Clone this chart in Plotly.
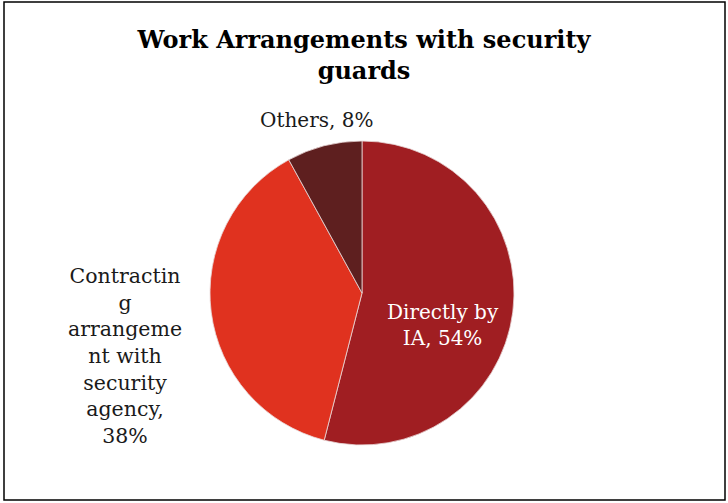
import plotly.graph_objects as go

# Données
categories = ['Directly by IA', 'Contracting arrangement with security agency', 'Others']
valeurs = [54, 38, 8]
couleurs = ['#A01E22', '#E0321F', '#5E1F1F']
# Libellés tels qu'affichés (retour à la ligne d'origine)
libelles_affiches = ['Directly by<br>IA', 'Contractin<br>g<br>arrangeme<br>nt with<br>security<br>agency', 'Others']
separateurs = [', ', ',<br>', ', ']

W, H = 728, 503
police = 'DejaVu Serif'

fig = go.Figure()

fig.add_trace(go.Pie(
    labels=categories,
    values=valeurs,
    sort=False,
    direction='clockwise',
    rotation=0,
    marker=dict(colors=couleurs, line=dict(color='#E8D8D8', width=0.8)),
    textinfo='none',
    hoverinfo='label+percent',
    showlegend=False,
    domain=dict(x=[(362 - 152) / W, (362 + 152) / W], y=[1 - 445 / H, 1 - 141 / H]),
))

# Étiquettes (intérieur pour la première part, extérieur pour les autres)
positions = [(443, 325), (125, 356), (316, 120)]
tailles = [20, 20.5, 20]
couleurs_texte = ['white', '#1a1a1a', '#1a1a1a']
for lib, sep, val, (px, py), t, ct in zip(libelles_affiches, separateurs, valeurs, positions, tailles, couleurs_texte):
    fig.add_annotation(
        text=f"{lib}{sep}{val}%",
        xref='paper', yref='paper',
        x=px / W, y=1 - py / H,
        xanchor='center', yanchor='middle',
        showarrow=False,
        font=dict(family=police, size=t, color=ct),
    )

fig.update_layout(
    title=dict(
        text='<b>Work Arrangements with security<br>guards</b>',
        font=dict(family=police, size=24, color='black'),
        x=0.5, xanchor='center',
        y=1 - 48 / H, yanchor='middle',
    ),
    width=W, height=H,
    margin=dict(l=0, r=0, t=0, b=0),
    paper_bgcolor='white',
    plot_bgcolor='white',
    shapes=[dict(
        type='rect', xref='paper', yref='paper',
        x0=4 / W, x1=725 / W, y0=1 - 500 / H, y1=1 - 2 / H,
        line=dict(color='black', width=1.5),
    )],
)

# Marge du navigateur supprimée pour que la figure commence au coin de la page
fig.write_html("out.html", config={'displayModeBar': False},
               post_script="document.body.style.margin='0';")
